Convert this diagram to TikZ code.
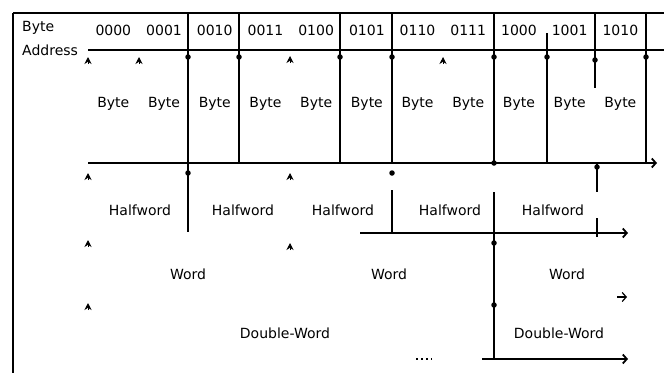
\documentclass[tikz,border=0pt]{standalone}
\usepackage{fontspec}
\setmainfont{DejaVu Sans}
\usetikzlibrary{arrows.meta}
\begin{document}
\begin{tikzpicture}[x=1pt,y=-1pt,
  frame/.style={line width=1.4pt},
  rule/.style={line width=1.8pt},
  lbl/.style={inner sep=0pt, font=\fontsize{14}{16}\selectfont},
  tipup/.style={-{Stealth[length=7pt,width=7pt]}, line width=0.8pt},
  barb/.style={-{Straight Barb[length=4pt,width=9pt]}},
  dotm/.style={fill, circle, inner sep=0pt, minimum size=5.5pt}
]
\useasboundingbox (0,0) rectangle (664,373);
% frame
\draw[frame] (13,13) -- (664,13);
\draw[frame] (13,13) -- (13,373);
% header
\node[lbl, anchor=west] (ba1) at (22,28) {Byte};
\node[lbl, anchor=west] (ba2) at (22,50) {Address};
\foreach \t [count=\i from 0] in {0000,0001,0010,0011,0100,0101,0110,0111,1000,1001,1010}
  \node[lbl] (h\i) at ({88+50.7*(\i+0.5)},30) {\t};
\draw[rule] (88,50) -- (664,50);
\foreach \x in {188,239,340,392,494,595,646} \draw[rule] (\x,13) -- (\x,50);
\draw[rule] (547,33) -- (547,50);
% byte row
\foreach \i in {0,...,10}
  \node[lbl] (b\i) at ({88+50.7*(\i+0.5)},104) {Byte};
\draw[rule] (188,50) -- (188,232);
\foreach \x in {239,340,392,494,547,646} \draw[rule] (\x,50) -- (\x,163);
\draw[rule] (595,50) -- (595,88);
\draw[rule,barb] (88,163) -- (657,163);
% halfword row
\node[lbl] (hw1) at (140,210) {Halfword};
\node[lbl] (hw2) at (243,210) {Halfword};
\node[lbl] (hw3) at (343,210) {Halfword};
\node[lbl] (hw4) at (450,210) {Halfword};
\node[lbl] (hw5) at (553,210) {Halfword};
\draw[rule] (392,190) -- (392,232);
\draw[rule] (494,192) -- (494,359);
\draw[rule] (597,163) -- (597,192);
\draw[rule] (597,218) -- (597,237);
\draw[rule,barb] (360,233) -- (628,233);
% word row
\node[lbl] (w1) at (188,274) {Word};
\node[lbl] (w2) at (389,274) {Word};
\node[lbl] (w3) at (567,274) {Word};
% doubleword row
\node[lbl] (dw1) at (285,333) {Double-Word};
\node[lbl] (dw2) at (559,333) {Double-Word};
\draw[rule,barb] (482,359) -- (628,359);
\draw[line width=1.8pt, dash pattern=on 2pt off 3pt] (416,359) -- (432,359);
\coordinate (r3a) at (617,297);
\draw[barb, line width=1.2pt] (r3a) -- ++(10,0);
% markers
\foreach \x/\y in {88/57,139/57,290/56,443/57,88/173,290/173,88/240,290/243,88/303}
  \draw[tipup] (\x,{\y+7}) -- (\x,\y);
\foreach \x/\y in {188/57,239/57,340/57,392/57,494/57,547/57,595/60,646/57,188/173,392/173,494/163,597/167,494/243,494/305}
  \node[dotm] at (\x,\y) {};
\end{tikzpicture}
\end{document}
